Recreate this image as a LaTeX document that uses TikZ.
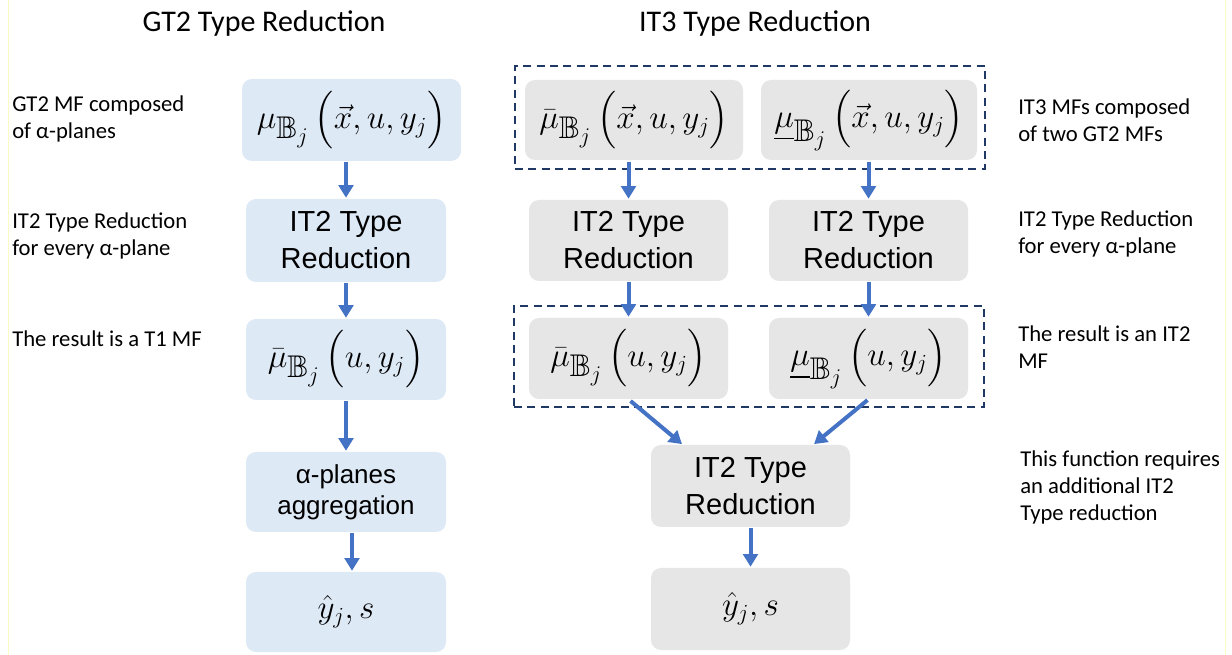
\documentclass[tikz,border=0pt]{standalone}
\usepackage{amsmath,amssymb}
\usepackage{graphicx}
\usepackage{fontspec}
\setmainfont{Carlito}
\newfontfamily\boxfont{Liberation Sans}
\usetikzlibrary{arrows.meta}

\definecolor{blueFill}{RGB}{222,233,246}
\definecolor{grayFill}{RGB}{230,230,230}
\definecolor{arrowBlue}{RGB}{68,114,196}
\definecolor{navy}{RGB}{31,56,100}
\definecolor{edgeYellow}{RGB}{250,250,195}

% membership symbol with an enlarged set subscript B_j
\newcommand{\muB}[1]{#1_{\scalebox{1.4}{$\scriptstyle\mathbb{B}_{j}$}}\,}

\tikzset{
  px/.style 2 args={minimum width=#1*0.75pt, minimum height=#2*0.75pt},
  card/.style={rectangle, rounded corners=7.5pt, inner sep=0pt, align=center, text=black},
  bluecard/.style={card, fill=blueFill},
  graycard/.style={card, fill=grayFill},
  bigtxt/.style={font=\boxfont\fontsize{21.75}{27.75}\selectfont},
  midtxt/.style={font=\boxfont\fontsize{19.5}{23.25}\selectfont},
  mathtxt/.style={font=\fontsize{24}{28}\selectfont},
  flow/.style={-{Triangle[width=11pt,length=9.5pt]}, line width=3pt, draw=arrowBlue,
               shorten <=0.75pt, shorten >=0.75pt},
  groupbox/.style={draw=navy, line width=1.5pt, dash pattern=on 6pt off 4pt, inner sep=0pt},
  note/.style={font=\fontsize{17}{20.25}\selectfont, align=left, anchor=base west, inner sep=0pt},
  heading/.style={font=\fontsize{22.5}{27}\selectfont, anchor=base, inner sep=0pt},
}

\begin{document}
\begin{tikzpicture}[x=0.75pt, y=-0.75pt]
  \useasboundingbox (0,0) rectangle (1232,655);
  \fill[white] (0,0) rectangle (1232,655);
  \draw[edgeYellow, line width=0.75pt] (8,0) -- (8,655);
  \draw[edgeYellow, line width=0.75pt] (1225,0) -- (1225,655);

  % column headings
  \node[heading] (h1) at (264,32) {GT2 Type Reduction};
  \node[heading] (h2) at (755,32) {IT3 Type Reduction};

  % GT2 column
  \node[bluecard, px={219}{82}, mathtxt] (b1) at (351.5,120)
    {$\muB{\mu}\Bigl(\vec{x},u,y_j\Bigr)$};
  \node[bluecard, px={200}{83}, bigtxt] (b2) at (346,240.5) {IT2 Type\\Reduction};
  \node[bluecard, px={200}{81}, mathtxt] (b3) at (346,359.5)
    {$\muB{\bar{\mu}}\Bigl(u,y_j\Bigr)$};
  \node[bluecard, px={200}{80}, midtxt] (b4) at (346,492) {α-planes\\aggregation};
  \node[bluecard, px={200}{80}, mathtxt] (b5) at (346,612) {$\hat{y}_j, s$};

  \draw[flow] (b1.south -| b2.north) -- (b2.north);
  \draw[flow] (b2.south) -- (b3.north);
  \draw[flow] (b3.south) -- (b4.north);
  \draw[flow] ([xshift=4.5pt]b4.south) -- ([xshift=4.5pt]b5.north);

  % IT3 column
  \node[groupbox, px={470}{103}] (g1) at (750,117.5) {};
  \node[graycard, px={218}{80}, mathtxt] (r1a) at (634,120)
    {$\muB{\bar{\mu}}\Bigl(\vec{x},u,y_j\Bigr)$};
  \node[graycard, px={216}{80}, mathtxt] (r1b) at (869,120)
    {$\muB{\underline{\mu}}\Bigl(\vec{x},u,y_j\Bigr)$};
  \node[graycard, px={199}{81}, bigtxt] (r2a) at (628.5,240.5) {IT2 Type\\Reduction};
  \node[graycard, px={199}{81}, bigtxt] (r2b) at (868.5,240.5) {IT2 Type\\Reduction};
  \node[groupbox, px={470}{101}] (g2) at (749,356.5) {};
  \node[graycard, px={199}{81}, mathtxt] (r3a) at (628.5,358.5)
    {$\muB{\bar{\mu}}\Bigl(u,y_j\Bigr)$};
  \node[graycard, px={199}{81}, mathtxt] (r3b) at (868.5,358.5)
    {$\muB{\underline{\mu}}\Bigl(u,y_j\Bigr)$};
  \node[graycard, px={199}{82}, bigtxt] (r4) at (750.5,486) {IT2 Type\\Reduction};
  \node[graycard, px={199}{82}, mathtxt] (r5) at (750.5,609) {$\hat{y}_j, s$};

  \draw[flow, shorten <=1.5pt] (r1a.south -| r2a.north) -- (r2a.north);
  \draw[flow, shorten <=1.5pt] (r1b.south -| r2b.north) -- (r2b.north);
  \draw[flow] (r2a.south) -- (r3a.north);
  \draw[flow] (r2b.south) -- (r3b.north);
  \draw[flow, shorten <=2pt] (r3a.south) -- ([xshift=24pt]r4.north west);
  \draw[flow, shorten <=1pt] (r3b.south) -- ([xshift=-27.75pt]r4.north east);
  \draw[flow] (r4.south) -- (r5.north);

  % side notes (anchored on the baseline of their last line)
  \node[note] (n1) at (12,138.5) {GT2 MF composed\\of α-planes};
  \node[note] (n2) at (12,255.5) {IT2 Type Reduction\\for every α-plane};
  \node[note] (n3) at (12,346.5) {The result is a T1 MF};
  \node[note] (n4) at (1018,141.5) {IT3 MFs composed\\of two GT2 MFs};
  \node[note] (n5) at (1018,254) {IT2 Type Reduction\\for every α-plane};
  \node[note] (n6) at (1018,368.5) {The result is an IT2\\MF};
  \node[note] (n7) at (1020,520.5) {This function requires\\an additional IT2\\Type reduction};
\end{tikzpicture}
\end{document}
